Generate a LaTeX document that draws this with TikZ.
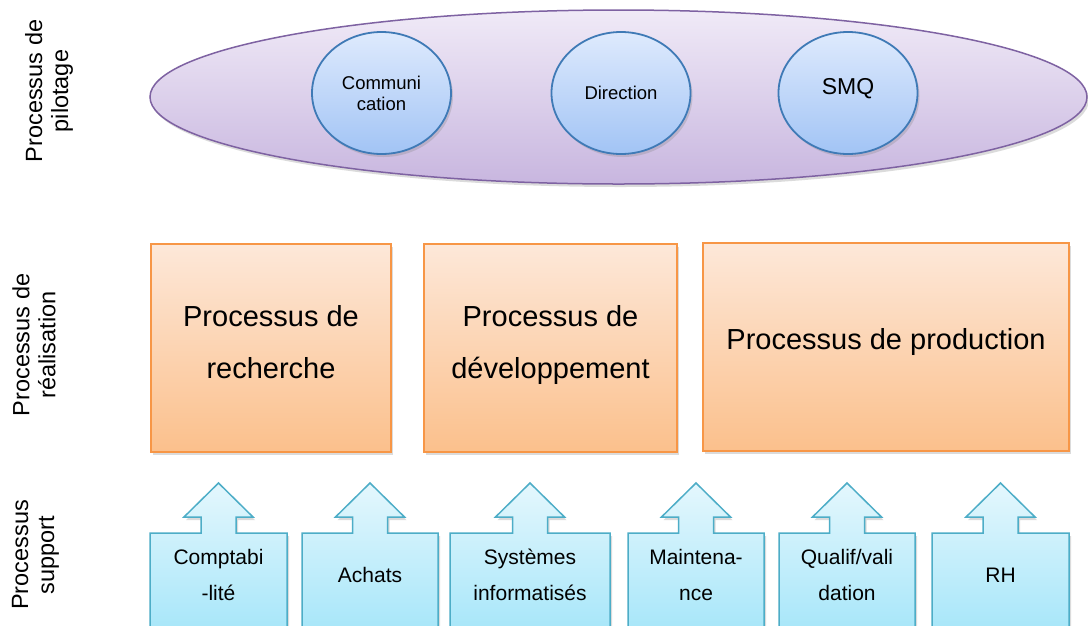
\documentclass[tikz,border=0pt]{standalone}
\usepackage{fontspec}
\setmainfont{Liberation Sans}
\usetikzlibrary{shapes.geometric,shadows}

\definecolor{pilotline}{HTML}{7E62A2}
\definecolor{pilottop}{HTML}{F0EAF7}
\definecolor{pilotbot}{HTML}{C8B6DF}
\definecolor{circline}{HTML}{3F7AB6}
\definecolor{circtop}{HTML}{DEEAFD}
\definecolor{circbot}{HTML}{A2C4F5}
\definecolor{realline}{HTML}{F79646}
\definecolor{realtop}{HTML}{FDE8D9}
\definecolor{realbot}{HTML}{FBC08C}
\definecolor{supline}{HTML}{4DADC7}
\definecolor{suptop}{HTML}{E4F7FD}
\definecolor{supbot}{HTML}{A6E6F9}

\tikzset{
  softshadow/.style={drop shadow={opacity=0.28, shadow xshift=2pt, shadow yshift=-3pt}},
  sidelabel/.style={rotate=90, align=center, inner sep=0pt,
    font=\fontsize{23.5}{26}\selectfont},
  pilotshape/.style={ellipse, draw=pilotline, line width=1.5pt,
    top color=pilottop, bottom color=pilotbot, softshadow, inner sep=0pt},
  pilotcirc/.style={ellipse, draw=circline, line width=1.8pt,
    top color=circtop, bottom color=circbot, softshadow, inner sep=0pt,
    minimum width=139pt, minimum height=122pt, align=center,
    font=\fontsize{18.5}{21}\selectfont},
  realbox/.style={rectangle, draw=realline, line width=2pt,
    top color=realtop, bottom color=realbot, softshadow, inner sep=0pt,
    minimum height=208pt, align=center,
    font=\fontsize{29}{52}\selectfont},
  suppath/.style={draw=supline, line width=1.5pt, line join=miter,
    top color=suptop, bottom color=supbot, softshadow},
  suptext/.style={align=center, inner sep=0pt,
    font=\fontsize{21}{36}\selectfont},
}

% support process: box with an upward arrow on top
% #1 name, #2 centre x, #3 half width of the box, #4 text
\newcommand\supportbox[4]{%
  \path[suppath] ({#2-#3},634) -- ({#2-#3},533) -- ({#2-17.5},533)
    -- ({#2-17.5},517) -- ({#2-34.5},517) -- (#2,483) -- ({#2+34.5},517)
    -- ({#2+17.5},517) -- ({#2+17.5},533) -- ({#2+#3},533)
    -- ({#2+#3},634) -- cycle;
  \node[suptext] (#1) at (#2,575) {#4};}

% invisible strut that deepens the last line of a text block
\newcommand\lowstrut[1]{\rule[-#1]{0pt}{#1}}

\begin{document}
\begin{tikzpicture}[x=1pt,y=-1pt]
\clip (0,0) rectangle (1088,625);
\fill[white] (0,0) rectangle (1088,625);

% row titles
\node[sidelabel] (lpil) at (49,91) {Processus de\\pilotage};
\node[sidelabel] (lrea) at (34,345) {Processus de\\réalisation};
\node[sidelabel] (lsup) at (35.5,555) {Processus\\support};

% steering processes
\node[pilotshape, minimum width=937pt, minimum height=174pt] (pil) at (618.5,97) {};
\node[pilotcirc] (com) at (381.5,93) {Communi\\cation};
\node[pilotcirc, text height=13pt, text depth=-1pt] (dir) at (621,93) {Direction};
\node[pilotcirc, font=\fontsize{23}{26}\selectfont, text height=16.5pt, text depth=14.5pt] (smq) at (848,93) {SMQ};

% core processes
\node[realbox, minimum width=240pt] (rech) at (271,347.5) {Processus de\\recherche\lowstrut{12pt}};
\node[realbox, minimum width=253pt] (dev) at (550.5,348) {Processus de\\développement\lowstrut{13pt}};
\node[realbox, minimum width=366pt, text height=21pt, text depth=17pt] (prod) at (886,347) {Processus de production};

% support processes
\supportbox{compta}{218.5}{68.5}{Comptabi\\-lité}
\supportbox{achats}{370}{68}{Achats}
\supportbox{si}{530}{80}{Systèmes\\informatisés}
\supportbox{maint}{696}{68}{Maintena-\\nce}
\supportbox{qualif}{847}{68}{Qualif/vali\\dation}
\supportbox{rh}{1000.5}{68.5}{RH}
\end{tikzpicture}
\end{document}
